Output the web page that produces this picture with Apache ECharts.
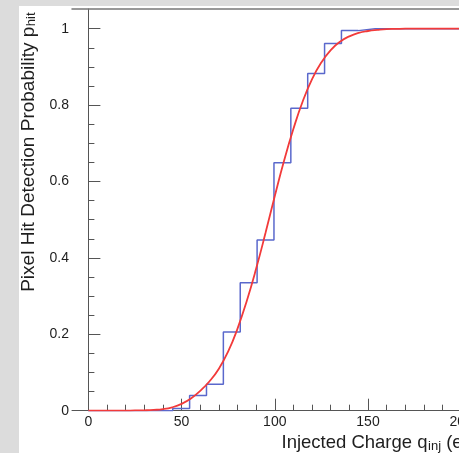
<!DOCTYPE html>
<html>
<head>
<meta charset="utf-8">
<script src="https://cdn.jsdelivr.net/npm/echarts@6/dist/echarts.min.js"></script>
<style>
  html, body { margin: 0; padding: 0; background: #dcdcdc; }
  #chart { width: 459px; height: 453px; }
</style>
</head>
<body>
<div id="chart"></div>
<script>
// ---- data ----
const binEdges = [0, 9.05, 18.1, 27.15, 36.2, 45.25, 54.3, 63.35, 72.4, 81.45, 90.5, 99.55, 108.6, 117.65, 126.7, 135.75, 144.8, 153.85, 162.9, 171.95, 181, 190.05, 199.1, 208.15, 217.2, 226.25, 235.3, 244.35, 253.4];
const binValues = [0, 0, 0, 0, 0, 0.006, 0.040, 0.069, 0.206, 0.335, 0.447, 0.649, 0.792, 0.883, 0.961, 0.995, 1, 1, 1, 1, 1, 1, 1, 1, 1, 1, 1, 1, 1];
const fitX = [0, 5, 10, 15, 20, 25, 30, 35, 40, 45, 50, 55, 60, 65, 70, 75, 80, 85, 90, 95, 100, 105, 110, 115, 120, 125, 130, 135, 140, 145, 150, 155, 160, 165, 170, 180, 190, 200, 220, 250];
const fitY = [0, 0, 0, 0.0001, 0.0003, 0.0006, 0.001, 0.002, 0.004, 0.009, 0.018, 0.032, 0.052, 0.077, 0.11, 0.155, 0.215, 0.288, 0.372, 0.465, 0.562, 0.655, 0.738, 0.81, 0.868, 0.912, 0.944, 0.966, 0.98, 0.989, 0.994, 0.997, 0.999, 0.9995, 1, 1, 1, 1, 1, 1];
const xMajorTicks = [0, 50, 100, 150, 200, 250];
const xMinorTicks = [10, 20, 30, 40, 60, 70, 80, 90, 110, 120, 130, 140, 160, 170, 180, 190, 210, 220, 230, 240];
const yMajorTicks = [0, 0.2, 0.4, 0.6, 0.8, 1];
const yMinorTicks = [0.05, 0.1, 0.15, 0.25, 0.3, 0.35, 0.45, 0.5, 0.55, 0.65, 0.7, 0.75, 0.85, 0.9, 0.95];
const yTitleMain = 'Pixel Hit Detection Probability p';
const yTitleSub = 'hit';
const xTitleMain = 'Injected Charge q';
const xTitleSub = 'inj';
const xTitleTail = ' (e)';

// ---- build series data ----
const histData = binEdges.map((e, i) => [e, binValues[i]]);
histData.push([binEdges[binEdges.length - 1] + (binEdges[1] - binEdges[0]), binValues[binValues.length - 1]]);
const fitData = fitX.map((x, i) => [x, fitY[i]]);

const FONT = '"Liberation Sans", Arial, Helvetica, sans-serif';
const axisColor = '#555';
const textColor = '#1e1e1e';

const ctx = document.createElement('canvas').getContext('2d');
function measure(txt, size) { ctx.font = size + 'px ' + FONT; return ctx.measureText(txt).width; }

const xTitleSize = 18.5, xSubSize = 13;
const yTitleSize = 19, ySubSize = 13;
const xMainW = measure(xTitleMain, xTitleSize);
const xSubW = measure(xTitleSub, xSubSize);
const yMainW = measure(yTitleMain, yTitleSize);

const X0 = -8.8, X1 = 250, Y0 = 0, Y1 = 1.0516;

const chart = echarts.init(document.getElementById('chart'), null, { renderer: 'canvas' });
chart.setOption({
  animation: false,
  backgroundColor: 'transparent',
  grid: { left: 72, top: 9, width: 482.4, height: 401.7, containLabel: false, outerBoundsMode: 'none' },
  xAxis: [
    {
      type: 'value', min: X0, max: X1, position: 'bottom',
      axisLine: { show: true, lineStyle: { color: axisColor, width: 1 } },
      axisTick: { show: true, inside: true, length: 12, customValues: xMajorTicks, lineStyle: { color: axisColor } },
      axisLabel: { show: true, customValues: xMajorTicks, margin: 4, fontSize: 14, fontFamily: FONT, color: textColor },
      splitLine: { show: false }
    },
    {
      type: 'value', min: X0, max: X1, position: 'bottom',
      axisLine: { show: false },
      axisTick: { show: true, inside: true, length: 6, customValues: xMinorTicks, lineStyle: { color: axisColor } },
      axisLabel: { show: false },
      splitLine: { show: false }
    },
    {
      type: 'value', min: X0, max: X1, position: 'top',
      axisLine: { show: true, lineStyle: { color: '#777', width: 1.5 } },
      axisTick: { show: false }, axisLabel: { show: false }, splitLine: { show: false }
    }
  ],
  yAxis: [
    {
      type: 'value', min: Y0, max: Y1, position: 'left',
      axisLine: { show: true, lineStyle: { color: axisColor, width: 1 } },
      axisTick: { show: true, inside: true, length: 12, customValues: yMajorTicks, lineStyle: { color: axisColor } },
      axisLabel: {
        show: true, customValues: yMajorTicks, margin: 3, fontSize: 14, fontFamily: FONT, color: textColor,
        formatter: v => (Math.abs(v) < 1e-9 ? '0' : Math.abs(v - 1) < 1e-9 ? '1' : v.toFixed(1))
      },
      splitLine: { show: false }
    },
    {
      type: 'value', min: Y0, max: Y1, position: 'left',
      axisLine: { show: false },
      axisTick: { show: true, inside: true, length: 6, customValues: yMinorTicks, lineStyle: { color: axisColor } },
      axisLabel: { show: false },
      splitLine: { show: false }
    }
  ],
  graphic: [
    { type: 'rect', z: -10, shape: { x: 19, y: 6, width: 440, height: 447 }, style: { fill: '#ffffff' } },
    { type: 'text', x: 281.5, y: 443.2, style: { text: xTitleMain, font: xTitleSize + 'px ' + FONT, fill: textColor, textAlign: 'left', textVerticalAlign: 'middle' } },
    { type: 'text', x: 281.5 + xMainW + 0.5, y: 446.6, style: { text: xTitleSub, font: xSubSize + 'px ' + FONT, fill: textColor, textAlign: 'left', textVerticalAlign: 'middle' } },
    { type: 'text', x: 281.5 + xMainW + 0.5 + xSubW, y: 443.2, style: { text: xTitleTail, font: xTitleSize + 'px ' + FONT, fill: textColor, textAlign: 'left', textVerticalAlign: 'middle' } },
    {
      type: 'group', x: 28.5, y: 291.8, rotation: Math.PI / 2,
      children: [
        { type: 'text', x: 0, y: 0, style: { text: yTitleMain, font: yTitleSize + 'px ' + FONT, fill: textColor, textAlign: 'left', textVerticalAlign: 'middle' } },
        { type: 'text', x: yMainW + 0.5, y: 3.4, style: { text: yTitleSub, font: ySubSize + 'px ' + FONT, fill: textColor, textAlign: 'left', textVerticalAlign: 'middle' } }
      ]
    }
  ],
  series: [
    {
      type: 'line', name: 'hist', xAxisIndex: 0, yAxisIndex: 0, data: histData, step: 'end',
      showSymbol: false, symbol: 'none', z: 2,
      lineStyle: { color: '#5a68cc', width: 1.5 }
    },
    {
      type: 'line', name: 'fit', xAxisIndex: 0, yAxisIndex: 0, data: fitData,
      smooth: 0.5, showSymbol: false, symbol: 'none', z: 3,
      lineStyle: { color: '#f23a3a', width: 1.8 }
    }
  ]
});
</script>
</body>
</html>
